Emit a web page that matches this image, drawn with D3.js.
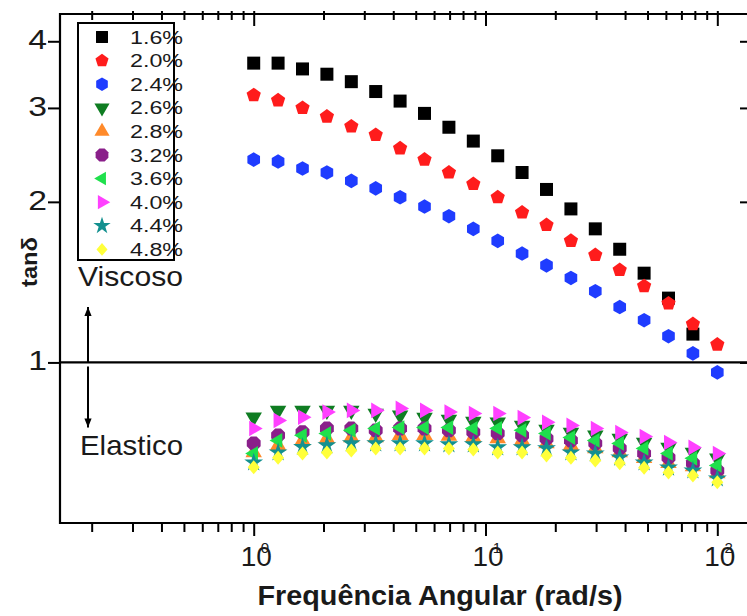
<!DOCTYPE html>
<html>
<head>
<meta charset="utf-8">
<script src="https://cdn.jsdelivr.net/npm/d3@7"></script>
<style>
  html, body { margin: 0; padding: 0; background: #fff; }
  svg { display: block; }
  text { font-family: "Liberation Sans", Arial, sans-serif; fill: #1a1a1a; }
</style>
</head>
<body>
<svg id="chart" width="747" height="616"></svg>
<script>
// Angular frequency sweep (rad/s)
const freq = [1.00, 1.274, 1.624, 2.069, 2.637, 3.360, 4.281, 5.456, 6.952, 8.859,
              11.29, 14.38, 18.33, 23.36, 29.76, 37.93, 48.33, 61.58, 78.48, 100.0];

// Strain levels
const strains = ["1.6%", "2.0%", "2.4%", "2.6%", "2.8%", "3.2%", "3.6%", "4.0%", "4.4%", "4.8%"];

// tan δ per strain level
const tan16 = [3.64, 3.64, 3.55, 3.47, 3.36, 3.22, 3.09, 2.93, 2.76, 2.60, 2.44, 2.27, 2.11, 1.94, 1.78, 1.63, 1.47, 1.32, 1.13];
const tan20 = [3.17, 3.10, 3.00, 2.89, 2.77, 2.67, 2.52, 2.40, 2.27, 2.16, 2.04, 1.91, 1.81, 1.69, 1.59, 1.49, 1.39, 1.29, 1.18, 1.08];
const tan24 = [2.40, 2.38, 2.31, 2.27, 2.19, 2.12, 2.04, 1.96, 1.88, 1.78, 1.69, 1.60, 1.52, 1.44, 1.36, 1.27, 1.20, 1.12, 1.04, 0.958];
const tan26 = [0.789, 0.813, 0.813, 0.813, 0.813, 0.802, 0.796, 0.788, 0.782, 0.775, 0.772, 0.762, 0.749, 0.739, 0.730, 0.720, 0.708, 0.693, 0.678, 0.661];
const tan28 = [0.678, 0.699, 0.714, 0.720, 0.723, 0.723, 0.730, 0.730, 0.728, 0.724, 0.720, 0.714, 0.705, 0.699, 0.690, 0.678, 0.661, 0.647, 0.638, 0.619];
const tan32 = [0.705, 0.730, 0.740, 0.752, 0.752, 0.746, 0.752, 0.752, 0.746, 0.740, 0.736, 0.730, 0.720, 0.714, 0.705, 0.690, 0.675, 0.663, 0.647, 0.627];
const tan36 = [0.675, 0.714, 0.730, 0.736, 0.746, 0.752, 0.755, 0.755, 0.755, 0.752, 0.752, 0.746, 0.736, 0.723, 0.714, 0.705, 0.690, 0.675, 0.661, 0.641];
const tan40 = [0.752, 0.778, 0.789, 0.807, 0.813, 0.813, 0.820, 0.813, 0.807, 0.802, 0.802, 0.788, 0.772, 0.762, 0.752, 0.739, 0.726, 0.708, 0.693, 0.675];
const tan44 = [0.649, 0.678, 0.694, 0.699, 0.705, 0.705, 0.705, 0.705, 0.702, 0.702, 0.693, 0.693, 0.690, 0.678, 0.675, 0.663, 0.649, 0.635, 0.627, 0.606];
const tan48 = [0.636, 0.663, 0.675, 0.678, 0.684, 0.690, 0.690, 0.690, 0.690, 0.687, 0.678, 0.678, 0.669, 0.663, 0.655, 0.647, 0.635, 0.622, 0.614, 0.596];

// Axis ticks
const xMajorTicks = [1, 10, 100];
const xMajorExp = ["0", "1", "2"];
const xMinorTicks = [0.2, 0.3, 0.4, 0.5, 0.6, 0.7, 0.8, 0.9,
                     2, 3, 4, 5, 6, 7, 8, 9,
                     20, 30, 40, 50, 60, 70, 80, 90];
const yTicks = [1, 2, 3, 4];
const yTickLabels = ["1", "2", "3", "4"];

const allSeries = [tan16, tan20, tan24, tan26, tan28, tan32, tan36, tan40, tan44, tan48];

// ---- marker shapes ----
function regPoly(n, r, rot) {
  const pts = d3.range(n).map(k => {
    const a = rot + 2 * Math.PI * k / n;
    return [(r * Math.sin(a)).toFixed(2), (-r * Math.cos(a)).toFixed(2)];
  });
  return "M" + pts.map(p => p.join(",")).join("L") + "Z";
}
const starPath = d3.symbol(d3.symbolStar, 110)();
const shapes = [
  "M-6.5,-6.5h13v13h-13Z",             // square
  regPoly(5, 7.5, 0),                  // pentagon
  regPoly(6, 7.3, 0),                  // hexagon
  regPoly(3, 9.5, Math.PI),            // triangle down
  regPoly(3, 9.5, 0),                  // triangle up
  regPoly(8, 7.5, Math.PI / 8),        // octagon
  regPoly(3, 8.5, -Math.PI / 2),       // triangle left
  regPoly(3, 9, Math.PI / 2),          // triangle right
  starPath,                            // star
  "M0,-7L6,0L0,7L-6,0Z"                // diamond
];
const colors = ["#000000", "#ff1c1c", "#1f3cff", "#0f7d22", "#ff8a2a",
                "#8a1f8a", "#1fe04c", "#ff40ff", "#13908f", "#ffff3a"];

// ---- layout ----
const svg = d3.select("#chart");
const plotL = 60, plotR = 749, plotT = 14, plotB = 523;

const x = d3.scaleLog().domain([0.146, 137]).range([plotL, plotR]);
const y = d3.scaleLog().domain([0.5, 4.5]).range([plotB, plotT]);

// bottom axis ticks (outward)
svg.append("g").attr("transform", `translate(0,${plotB})`)
  .call(d3.axisBottom(x).tickValues(xMinorTicks).tickSize(9).tickFormat(""))
  .call(g => g.select(".domain").remove());
svg.append("g").attr("transform", `translate(0,${plotB})`)
  .call(d3.axisBottom(x).tickValues(xMajorTicks).tickSize(13).tickFormat(""))
  .call(g => g.select(".domain").remove());

// top axis ticks (inward)
svg.append("g").attr("transform", `translate(0,${plotT - 3})`)
  .call(d3.axisBottom(x).tickValues(xMinorTicks).tickSize(9).tickFormat(""))
  .call(g => g.select(".domain").remove());
svg.append("g").attr("transform", `translate(0,${plotT - 3})`)
  .call(d3.axisBottom(x).tickValues(xMajorTicks).tickSize(15).tickFormat(""))
  .call(g => g.select(".domain").remove());

// left axis ticks (outward) and right axis ticks (inward)
svg.append("g").attr("transform", `translate(${plotL},0)`)
  .call(d3.axisLeft(y).tickValues(yTicks).tickSize(12).tickFormat(""))
  .call(g => g.select(".domain").remove());
svg.append("g").attr("transform", `translate(${plotR},0)`)
  .call(d3.axisLeft(y).tickValues(yTicks).tickSize(9).tickFormat(""))
  .call(g => g.select(".domain").remove());

svg.selectAll(".tick line").attr("stroke", "#000").attr("stroke-width", 2);

// frame
const frame = svg.append("g").attr("stroke", "#000").attr("stroke-width", 2.2).attr("fill", "none");
frame.append("path").attr("d", `M${plotL},${plotT}H${plotR}V${plotB}H${plotL}Z`);
// tan δ = 1 reference line
frame.append("line").attr("x1", plotL).attr("x2", plotR).attr("y1", y(1)).attr("y2", y(1));

// y tick labels
svg.append("g").selectAll("text").data(yTicks).join("text")
  .attr("transform", d => `translate(47,${y(d) + 8}) scale(1.25,1)`)
  .attr("text-anchor", "end")
  .attr("font-size", 27)
  .text((d, i) => yTickLabels[i]);

// x tick labels: "10" with a tight, overlapping exponent
const xl = svg.append("g").selectAll("text").data(xMajorTicks).join("text")
  .attr("x", d => x(d) - 13).attr("y", 566).attr("font-size", 28);
xl.append("tspan").text("10");
xl.append("tspan").attr("dx", -11).attr("dy", -13).attr("font-size", 15)
  .text((d, i) => xMajorExp[i]);

// axis titles
svg.append("text").attr("x", 440).attr("y", 605).attr("text-anchor", "middle")
  .attr("font-size", 28).attr("font-weight", "bold")
  .attr("textLength", 365).attr("lengthAdjust", "spacingAndGlyphs")
  .text("Frequência Angular (rad/s)");
svg.append("text").attr("transform", "translate(37,262) rotate(-90)")
  .attr("text-anchor", "middle").attr("font-size", 22).attr("font-weight", "bold")
  .attr("textLength", 50).attr("lengthAdjust", "spacingAndGlyphs")
  .text("tanδ");

// data markers
allSeries.forEach((vals, s) => {
  svg.append("g").selectAll("path")
    .data(vals.map((v, i) => [freq[i], v]))
    .join("path")
    .attr("transform", d => `translate(${x(d[0])},${y(d[1])})`)
    .attr("d", shapes[s])
    .attr("fill", colors[s]);
});

// legend
const lg = svg.append("g");
lg.append("rect").attr("x", 78).attr("y", 23).attr("width", 96).attr("height", 237)
  .attr("fill", "none").attr("stroke", "#000").attr("stroke-width", 2);
const rows = lg.selectAll("g").data(strains).join("g")
  .attr("transform", (d, i) => `translate(0,${37 + i * 23.6})`);
rows.append("path").attr("transform", "translate(102,0) scale(0.92)")
  .attr("d", (d, i) => shapes[i]).attr("fill", (d, i) => colors[i]);
rows.append("text").attr("x", 130).attr("y", 6.5).attr("font-size", 18)
  .attr("textLength", 53).attr("lengthAdjust", "spacingAndGlyphs")
  .text(d => d);

// regime annotations
svg.append("text").attr("x", 78).attr("y", 286).attr("font-size", 28)
  .attr("textLength", 105).attr("lengthAdjust", "spacingAndGlyphs").text("Viscoso");
svg.append("text").attr("x", 80).attr("y", 455).attr("font-size", 28)
  .attr("textLength", 103).attr("lengthAdjust", "spacingAndGlyphs").text("Elastico");

const defs = svg.append("defs");
defs.append("marker").attr("id", "head").attr("viewBox", "0 0 10 10")
  .attr("refX", 10).attr("refY", 5).attr("markerWidth", 11).attr("markerHeight", 9)
  .attr("markerUnits", "userSpaceOnUse").attr("orient", "auto")
  .append("path").attr("d", "M0,1L10,5L0,9Z").attr("fill", "#000");
const arrows = svg.append("g").attr("stroke", "#000").attr("stroke-width", 2);
arrows.append("line").attr("x1", 88).attr("x2", 88)
  .attr("y1", y(1)).attr("y2", y(1.27)).attr("marker-end", "url(#head)");
arrows.append("line").attr("x1", 88).attr("x2", 88)
  .attr("y1", y(1) + 4).attr("y2", y(0.755)).attr("marker-end", "url(#head)");
</script>
</body>
</html>
